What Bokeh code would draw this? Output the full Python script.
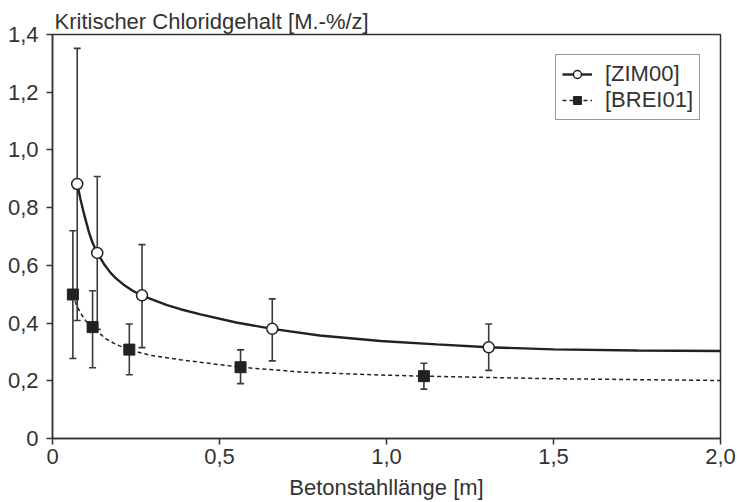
from bokeh.plotting import figure
from bokeh.models import (Range1d, FixedTicker, Whisker, TeeHead, ColumnDataSource,
                          Legend, LegendItem)
from bokeh.embed import file_html
from bokeh.resources import INLINE

# ---- data ----
title_text = "Kritischer Chloridgehalt [M.-%/z]"
xlabel_text = "Betonstahllänge [m]"

x_ticks = [0, 0.5, 1.0, 1.5, 2.0]
x_tick_labels = ["0", "0,5", "1,0", "1,5", "2,0"]
y_ticks = [0, 0.2, 0.4, 0.6, 0.8, 1.0, 1.2, 1.4]
y_tick_labels = ["0", "0,2", "0,4", "0,6", "0,8", "1,0", "1,2", "1,4"]

# [ZIM00] measured points with error bars
zim_x = [0.074, 0.134, 0.268, 0.658, 1.306]
zim_y = [0.882, 0.643, 0.496, 0.380, 0.316]
zim_lo = [0.409, 0.378, 0.315, 0.269, 0.236]
zim_hi = [1.352, 0.908, 0.672, 0.484, 0.397]
# [ZIM00] fitted curve
zim_curve_x = [0.074, 0.084, 0.094, 0.109, 0.12, 0.134, 0.154, 0.174, 0.19, 0.213, 0.24,
               0.268, 0.343, 0.383, 0.443, 0.55, 0.658, 0.8, 0.982, 1.15, 1.306, 1.5,
               1.75, 2.0]
zim_curve_y = [0.882, 0.828, 0.780, 0.715, 0.678, 0.643, 0.605, 0.574, 0.555, 0.533, 0.512,
               0.495, 0.462, 0.448, 0.430, 0.402, 0.380, 0.357, 0.338, 0.326, 0.316, 0.309,
               0.305, 0.303]

# [BREI01] measured points with error bars
brei_x = [0.061, 0.120, 0.230, 0.563, 1.112]
brei_y = [0.499, 0.386, 0.308, 0.247, 0.216]
brei_lo = [0.277, 0.245, 0.221, 0.190, 0.171]
brei_hi = [0.720, 0.512, 0.397, 0.307, 0.261]
# [BREI01] fitted curve
brei_curve_x = [0.061, 0.072, 0.084, 0.10, 0.12, 0.159, 0.19, 0.23, 0.293, 0.383, 0.443,
                0.563, 0.75, 0.982, 1.112, 1.5, 2.0]
brei_curve_y = [0.499, 0.462, 0.435, 0.407, 0.386, 0.346, 0.326, 0.308, 0.288, 0.273, 0.264,
                0.247, 0.230, 0.220, 0.216, 0.207, 0.201]

INK = "#333333"
LINE = "#222222"
FONT = "Liberation Sans"
FS = "22px"

p = figure(width=737, height=502, output_backend="svg", toolbar_location=None,
           x_range=Range1d(0, 2.0), y_range=Range1d(0, 1.4),
           min_border_left=52, min_border_right=17, min_border_top=34, min_border_bottom=63)

p.xgrid.visible = False
p.ygrid.visible = False
p.outline_line_color = INK
p.outline_line_width = 1.5
p.background_fill_color = "white"
p.border_fill_color = "white"

p.title.text = title_text
p.title.align = "left"
p.title.offset = 2
p.title.standoff = 1
p.title.text_font = FONT
p.title.text_font_size = FS
p.title.text_font_style = "normal"
p.title.text_color = INK

for ax, ticks, labels in ((p.xaxis[0], x_ticks, x_tick_labels), (p.yaxis[0], y_ticks, y_tick_labels)):
    ax.ticker = FixedTicker(ticks=ticks)
    ax.major_label_overrides = {t: l for t, l in zip(ticks, labels)}
    ax.axis_line_color = INK
    ax.axis_line_width = 1.5
    ax.major_tick_line_color = INK
    ax.major_tick_line_width = 1.5
    ax.major_tick_in = 0
    ax.major_tick_out = 6
    ax.minor_tick_in = 0
    ax.minor_tick_out = 0
    ax.major_label_text_font = FONT
    ax.major_label_text_font_size = FS
    ax.major_label_text_color = INK
p.xaxis[0].major_label_standoff = 4
p.xaxis[0].major_label_text_line_height = 1.0
p.yaxis[0].major_label_standoff = 8

p.xaxis[0].axis_label = xlabel_text
p.xaxis[0].axis_label_standoff = 8
p.xaxis[0].axis_label_text_line_height = 1.0
p.xaxis[0].axis_label_text_font = FONT
p.xaxis[0].axis_label_text_font_size = FS
p.xaxis[0].axis_label_text_font_style = "normal"
p.xaxis[0].axis_label_text_color = INK

# error bars
zim_src = ColumnDataSource(dict(x=zim_x, y=zim_y, lo=zim_lo, hi=zim_hi))
brei_src = ColumnDataSource(dict(x=brei_x, y=brei_y, lo=brei_lo, hi=brei_hi))
for src in (zim_src, brei_src):
    w = Whisker(source=src, base="x", lower="lo", upper="hi",
                line_color="#3a3a3a", line_width=1.6, level="underlay",
                upper_head=TeeHead(size=7, line_color="#3a3a3a", line_width=1.6),
                lower_head=TeeHead(size=7, line_color="#3a3a3a", line_width=1.6))
    p.add_layout(w)

# curves
zim_line = p.line(zim_curve_x, zim_curve_y, line_color=LINE, line_width=2.4)
brei_line = p.line(brei_curve_x, brei_curve_y, line_color=LINE, line_width=1.5,
                   line_dash="4 3")

# markers
zim_pts = p.scatter("x", "y", source=zim_src, marker="circle", size=11,
                    fill_color="white", line_color=LINE, line_width=1.5)
brei_pts = p.scatter("x", "y", source=brei_src, marker="square", size=11,
                     fill_color=LINE, line_color=LINE, line_width=1)

legend = Legend(items=[LegendItem(label="[ZIM00]", renderers=[zim_line, zim_pts]),
                       LegendItem(label="[BREI01]", renderers=[brei_line, brei_pts])],
                location="top_right", margin=20, padding=6, spacing=0,
                glyph_width=30, glyph_height=20, label_height=20, label_standoff=13,
                label_text_font=FONT, label_text_font_size=FS, label_text_color=INK,
                label_text_line_height=1.0,
                border_line_color=INK, border_line_width=1.2,
                background_fill_color="white", background_fill_alpha=1.0)
p.add_layout(legend, "center")

open("out.html", "w").write(file_html(p, INLINE))
